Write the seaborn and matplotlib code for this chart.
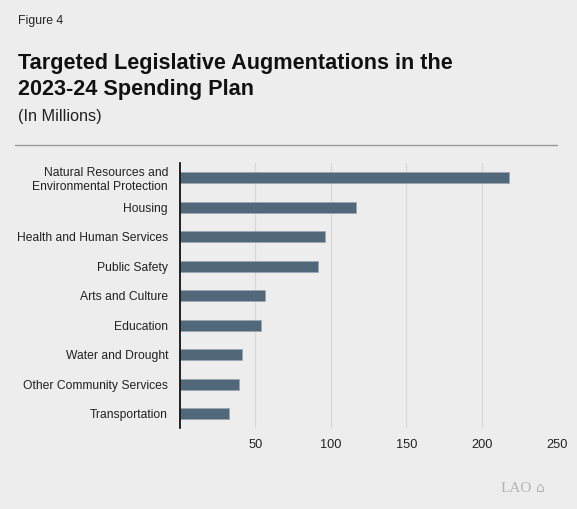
import matplotlib
matplotlib.use("Agg")
import matplotlib.pyplot as plt
import seaborn as sns
import pandas as pd
from matplotlib.lines import Line2D

categories = ["Natural Resources and\nEnvironmental Protection", "Housing", "Health and Human Services",
              "Public Safety", "Arts and Culture", "Education", "Water and Drought",
              "Other Community Services", "Transportation"]
values = [218.5, 116.7, 96.3, 91.2, 56.2, 53.6, 41.0, 39.0, 32.5]
xticks = [50, 100, 150, 200, 250]

bg = "#ECEDEC"
bar_color = "#51687A"

sns.set_theme(style="white")
plt.rcParams['font.family'] = ['Liberation Sans', 'DejaVu Sans']

df = pd.DataFrame({"category": categories, "value": values})

fig = plt.figure(figsize=(5.77, 5.09), dpi=100, facecolor=bg)
ax = fig.add_axes([180/577, 80.6/509, 377/577, 265.2/509])
ax.set_facecolor(bg)

sns.barplot(data=df, x="value", y="category", color=bar_color, width=0.37,
            edgecolor="#9AA7B2", linewidth=0.6, saturation=1, ax=ax, zorder=3)

ax.set_xlim(0, 250)
ax.set_ylim(8.5, -0.5)
ax.set_xticks(xticks)
ax.set_xticklabels([str(t) for t in xticks], fontsize=9.2, color="#222222")
ax.xaxis.grid(True, color="#D6D7D6", linewidth=0.9, zorder=0)
ax.set_axisbelow(True)
ax.tick_params(axis="x", length=0, pad=7.5)
ax.tick_params(axis="y", length=0, labelsize=8.7, labelcolor="#222222", pad=8.6)
for lbl in ax.get_yticklabels():
    lbl.set_horizontalalignment("right")
    lbl.set_linespacing(1.12)
ax.set_xlabel("")
ax.set_ylabel("")
for s in ["top", "right", "bottom"]:
    ax.spines[s].set_visible(False)
ax.spines["left"].set_color("black")
ax.spines["left"].set_linewidth(1.2)
ax.spines["left"].set_zorder(5)

fig.text(18/577, 1 - 21/509, "Figure 4", fontsize=8.8, color="#222222", va="center", ha="left")
fig.text(18/577, 1 - 76.5/509, "Targeted Legislative Augmentations in the\n2023-24 Spending Plan",
         fontsize=15.6, fontweight="bold", color="#111111", va="center", ha="left", linespacing=1.32)
fig.text(18/577, 1 - 116/509, "(In Millions)", fontsize=11.7, color="#222222", va="center", ha="left")

fig.add_artist(Line2D([15/577, 557/577], [1 - 145/509, 1 - 145/509], transform=fig.transFigure,
                      color="#9A9A9A", linewidth=1.0))

fig.text(532/577, 1 - 488/509, "LAO", fontsize=11, color="#B5B5B5", va="center", ha="right",
         family=["Liberation Serif", "DejaVu Serif"])
fig.text(540/577, 1 - 488/509, "⌂", fontsize=10, color="#B5B5B5", va="center", ha="center",
         family=["DejaVu Sans"])

fig.savefig("out.png", dpi=100, facecolor=bg)
